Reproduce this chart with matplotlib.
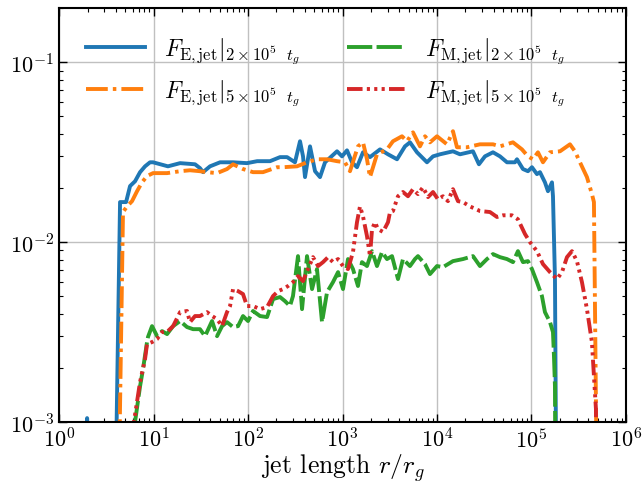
import matplotlib
matplotlib.use("Agg")
from matplotlib import pyplot as plt

plt.rcParams['font.family'] = 'serif'
plt.rcParams['font.serif'] = ['cmr10', 'DejaVu Serif']
plt.rcParams['mathtext.fontset'] = 'cm'
plt.rcParams['axes.formatter.use_mathtext'] = True
plt.rcParams['axes.unicode_minus'] = False

# F_E,jet at 2e5 t_g
r_e2 = [1.9, 1.98, 2.05, 3.8, 4.42, 5.12, 5.64, 6.37, 7.2, 8.13, 9.18, 9.88, 14.2, 19.1, 27.5,
        31.0, 33.4, 39.6, 50.6, 69.4, 97.5, 125, 171, 218, 259, 314, 355, 382, 401, 453, 512,
        578, 653, 875, 988, 1116, 1261, 1423, 1648, 1954, 2495, 3030, 3776, 4583, 5178, 6142,
        7836, 9078, 10760, 14760, 17510, 24040, 27800, 32210, 39140, 46420, 55060, 66880,
        70250, 81280, 91810, 101200, 114300, 123000, 138900, 149500, 164800, 168900, 177300,
        186200]
f_e2 = [5e-4, 1.05e-3, 1e-4, 1e-4, 0.0167, 0.0167, 0.0205, 0.0218, 0.0245, 0.0264, 0.0278,
        0.0278, 0.0264, 0.0275, 0.0271, 0.0258, 0.0245, 0.0264, 0.0278, 0.0278, 0.0275, 0.0282,
        0.0282, 0.0297, 0.0297, 0.0278, 0.0364, 0.0300, 0.0230, 0.0341, 0.0248, 0.0230, 0.0278,
        0.0320, 0.0300, 0.0324, 0.0278, 0.0261, 0.0316, 0.0297, 0.0328, 0.0308, 0.0289, 0.0341,
        0.0359, 0.0316, 0.0278, 0.0300, 0.0308, 0.0320, 0.0308, 0.0320, 0.0271, 0.0300, 0.0316,
        0.0300, 0.0278, 0.0278, 0.0289, 0.0255, 0.0248, 0.0261, 0.0239, 0.0245, 0.0215, 0.0192,
        0.0215, 0.0180, 0.00623, 1e-4]

# F_E,jet at 5e5 t_g
r_e5 = [4.11, 4.75, 5.24, 5.92, 6.69, 7.55, 8.53, 9.88, 13.9, 19.1, 24.3, 31.0, 36.8, 47.0,
        59.9, 69.4, 88.5, 113, 144, 203, 235, 330, 421, 537, 686, 875, 1062, 1200, 1458, 1648,
        1816, 1954, 2317, 2957, 3421, 4262, 4815, 5572, 6607, 7464, 8433, 10000, 12760, 14760,
        16280, 20760, 28490, 39140, 46420, 63700, 79300, 91810, 103700, 117100, 132300, 157000,
        200400, 255500, 288600, 326100, 386500, 436400, 458300, 505300]
f_e5 = [1e-4, 0.0147, 0.0158, 0.0169, 0.0192, 0.0215, 0.0233, 0.0242, 0.0242, 0.0248, 0.0251,
        0.0248, 0.0245, 0.0242, 0.0255, 0.0271, 0.0255, 0.0245, 0.0245, 0.0261, 0.0261, 0.0264,
        0.0278, 0.0289, 0.0289, 0.0282, 0.0278, 0.0248, 0.0341, 0.0359, 0.0289, 0.0230, 0.0308,
        0.0328, 0.0364, 0.0388, 0.0364, 0.0408, 0.0341, 0.0388, 0.0359, 0.0388, 0.0350, 0.0414,
        0.0337, 0.0337, 0.0350, 0.0350, 0.0341, 0.0359, 0.0328, 0.0300, 0.0289, 0.0316, 0.0278,
        0.0316, 0.0320, 0.0350, 0.0320, 0.0278, 0.0230, 0.0185, 0.0167, 1e-4]

# F_M,jet at 2e5 t_g
r_m2 = [6.25, 6.37, 7.2, 7.74, 8.53, 8.74, 9.64, 10.9, 12.3, 13.9, 16.1, 19.1, 22.6, 26.2, 31.0,
        35.1, 41.6, 47.0, 53.1, 59.9, 69.4, 78.4, 88.5, 100, 113, 134, 159, 184, 218, 246, 278,
        299, 338, 373, 421, 476, 537, 607, 686, 793, 897, 1012, 1143, 1291, 1458, 1607, 1816,
        2053, 2317, 2618, 2957, 3342, 3866, 4365, 5178, 5849, 6290, 7464, 8433, 10000, 11570,
        14760, 18830, 24040, 28490, 33820, 39140, 46420, 55060, 63700, 71940, 81280, 91810,
        101200, 114300, 129100, 138900, 157000, 168900, 173000, 177300, 181600]
f_m2 = [1e-4, 1e-3, 0.00158, 0.00197, 0.00278, 0.00297, 0.00341, 0.00300, 0.00320, 0.00308,
        0.00341, 0.00364, 0.00337, 0.00328, 0.00328, 0.00300, 0.00364, 0.00300, 0.00341, 0.00359,
        0.00337, 0.00341, 0.00388, 0.00364, 0.00414, 0.00388, 0.00383, 0.00482, 0.00495, 0.00470,
        0.00441, 0.00501, 0.00836, 0.00424, 0.00836, 0.00548, 0.00708, 0.00359, 0.00527, 0.00599,
        0.00681, 0.00548, 0.00805, 0.00708, 0.00570, 0.00774, 0.00736, 0.00891, 0.00736, 0.00880,
        0.00805, 0.00836, 0.00623, 0.00805, 0.00736, 0.00805, 0.00836, 0.00755, 0.00664, 0.00736,
        0.00726, 0.00784, 0.00805, 0.00836, 0.00736, 0.00805, 0.00858, 0.00825, 0.00805, 0.00774,
        0.00891, 0.00774, 0.00784, 0.00708, 0.00599, 0.00501, 0.00408, 0.00359, 0.00316, 0.00233,
        0.00158, 1e-4]

# F_M,jet at 5e5 t_g
r_m5 = [6.1, 6.2, 7.2, 8.13, 8.53, 9.64, 10.9, 12.3, 14.2, 16.1, 19.1, 22.6, 24.3, 27.5, 31.0,
        36.8, 41.6, 47.0, 53.1, 59.9, 64.5, 69.4, 78.4, 88.5, 97.5, 113, 134, 159, 184, 208, 235,
        265, 299, 338, 382, 431, 487, 551, 622, 703, 793, 897, 1012, 1143, 1291, 1423, 1531,
        1648, 1816, 1954, 2053, 2207, 2377, 2684, 3030, 3184, 3421, 3866, 4365, 4932, 5572, 6290,
        7112, 8035, 9078, 10250, 11570, 13070, 14760, 16680, 18830, 22340, 28490, 36380, 43150,
        49930, 62210, 71940, 85320, 96380, 114300, 132300, 157000, 186200, 210400, 237600,
        268300, 302900, 342300, 386500, 436400, 458300, 481300, 493300]
f_m5 = [1e-4, 1e-3, 0.00167, 0.00224, 0.00271, 0.00278, 0.00289, 0.00316, 0.00320, 0.00341,
        0.00408, 0.00414, 0.00359, 0.00388, 0.00388, 0.00408, 0.00388, 0.00373, 0.00341, 0.00408,
        0.00441, 0.00548, 0.00534, 0.00514, 0.00441, 0.00441, 0.00424, 0.00435, 0.00501, 0.00534,
        0.00548, 0.00570, 0.00599, 0.00647, 0.00607, 0.00708, 0.00825, 0.00736, 0.00774, 0.00825,
        0.00774, 0.00805, 0.00736, 0.00708, 0.00880, 0.0129, 0.0158, 0.0139, 0.0108, 0.00836,
        0.0118, 0.0129, 0.0118, 0.0114, 0.0129, 0.0147, 0.0149, 0.0180, 0.0190, 0.0180, 0.0197,
        0.0185, 0.0202, 0.0178, 0.0190, 0.0173, 0.0180, 0.0169, 0.0197, 0.0169, 0.0167, 0.0158,
        0.0149, 0.0147, 0.0138, 0.0141, 0.0141, 0.0134, 0.0111, 0.0100, 0.00891, 0.00755,
        0.00681, 0.00623, 0.00681, 0.00825, 0.00891, 0.00784, 0.00599, 0.00424, 0.00278,
        0.00180, 0.00118, 1e-4]

labels = [r'$F_{\rm E,jet}|_{2\times10^5\ \ t_g}$',
          r'$F_{\rm E,jet}|_{5\times10^5\ \ t_g}$',
          r'$F_{\rm M,jet}|_{2\times10^5\ \ t_g}$',
          r'$F_{\rm M,jet}|_{5\times10^5\ \ t_g}$']

fig = plt.figure(figsize=(6.42, 4.85), dpi=100)
ax = fig.add_axes([0.092, 0.128, 0.883, 0.853])

lw = 2.8
ax.plot(r_e2, f_e2, color='C0', lw=lw, label=labels[0])
ax.plot(r_e5, f_e5, color='C1', lw=lw, linestyle=(0, (5.6, 1.3, 0.9, 1.3)), label=labels[1])
ax.plot(r_m2, f_m2, color='C2', lw=lw, linestyle=(0, (6.5, 1.1)), label=labels[2])
ax.plot(r_m5, f_m5, color='C3', lw=lw, linestyle=(0, (4.0, 1.1, 0.8, 1.1, 0.8, 1.1, 0.8, 1.1)),
        label=labels[3])

ax.set_xscale('log')
ax.set_yscale('log')
ax.set_xlim(1, 1e6)
ax.set_ylim(1e-3, 0.2)
ax.grid(True, which='major', color='#c0c0c0', lw=1)
ax.tick_params(which='both', direction='in', top=True, right=True, labelsize=16)
ax.tick_params(which='major', length=6, width=1)
ax.tick_params(which='minor', length=3, width=0.8)
for s in ax.spines.values():
    s.set_linewidth(1.5)

ax.set_xlabel(r'jet length $r/r_g$', fontsize=18.5, labelpad=0)
ax.legend(loc='upper left', ncol=2, frameon=False, fontsize=17, handlelength=2.5,
          columnspacing=2.0, bbox_to_anchor=(0.01, 0.985))

fig.savefig('out.png', dpi=100)
